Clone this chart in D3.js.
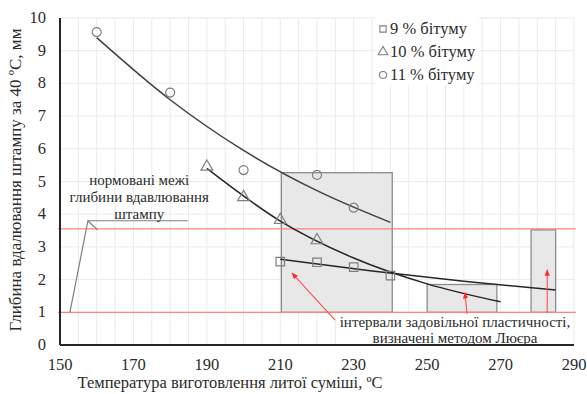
<!DOCTYPE html>
<html lang="uk">
<head>
  <meta charset="utf-8">
  <title>Глибина вдавлювання штампу</title>
  <script src="https://d3js.org/d3.v7.min.js"></script>
</head>
<body style="margin:0; background:#fff">
<script>
// measured points (temperature, depth)
var temp9 = [210, 220, 230, 240];
var depth9 = [2.55, 2.53, 2.38, 2.12];
var temp10 = [190, 200, 210, 220];
var depth10 = [5.45, 4.52, 3.82, 3.2];
var temp11 = [160, 180, 200, 220, 230];
var depth11 = [9.57, 7.72, 5.35, 5.2, 4.2];

// trend lines
var trend9X = [210, 235, 260, 285];
var trend9Y = [2.62, 2.26, 1.95, 1.68];
var trend10X = [190, 210, 230, 250, 270];
var trend10Y = [5.4, 3.79, 2.66, 1.87, 1.32];
var trend11X = [160, 180, 200, 220, 240];
var trend11Y = [9.4, 7.5, 5.95, 4.72, 3.75];

// Lüer intervals
var boxFrom = [210.3, 250, 278.3];
var boxTo = [240.5, 269, 285];
var boxTop = [5.27, 1.85, 3.52];
var limits = [1, 3.55];

var xTicks = [150, 170, 190, 210, 230, 250, 270, 290];
var yTicks = [0, 1, 2, 3, 4, 5, 6, 7, 8, 9, 10];
var legendNames = ["9 % бітуму", "10 % бітуму", "11 % бітуму"];

var w = 587, h = 394;
var m = {left: 60, right: 13, top: 18, bottom: 49};
var serif = "'Liberation Serif', 'Times New Roman', serif";

var x = d3.scaleLinear().domain([150, 290]).range([m.left, w - m.right]);
var y = d3.scaleLinear().domain([0, 10]).range([h - m.bottom, m.top]);

var svg = d3.select("body").append("svg")
  .attr("width", w)
  .attr("height", h);

// every label goes through here so the font is set inline
function label(sel, size) {
  return sel.style("font-family", serif)
    .style("font-size", size + "px")
    .style("fill", "#2b2b2b");
}

// grid
svg.append("g").selectAll("line")
  .data(d3.range(155, 291, 5))
  .enter().append("line")
  .attr("x1", function(d) { return x(d); })
  .attr("x2", function(d) { return x(d); })
  .attr("y1", y(0)).attr("y2", y(10))
  .attr("stroke", "#ebebeb");
svg.append("g").selectAll("line")
  .data(yTicks.slice(1))
  .enter().append("line")
  .attr("x1", x(150)).attr("x2", x(290))
  .attr("y1", function(d) { return y(d); })
  .attr("y2", function(d) { return y(d); })
  .attr("stroke", "#ebebeb");

// interval boxes
svg.append("g").selectAll("rect")
  .data(boxFrom)
  .enter().append("rect")
  .attr("x", function(d) { return x(d); })
  .attr("y", function(d, i) { return y(boxTop[i]); })
  .attr("width", function(d, i) { return x(boxTo[i]) - x(d); })
  .attr("height", function(d, i) { return y(limits[0]) - y(boxTop[i]); })
  .attr("fill", "#e8e8e8")
  .attr("stroke", "#8c8c8c")
  .attr("stroke-width", 1.3);

// limit lines
svg.append("g").selectAll("line")
  .data(limits)
  .enter().append("line")
  .attr("x1", x(149.5)).attr("x2", x(290.5))
  .attr("y1", function(d) { return y(d); })
  .attr("y2", function(d) { return y(d); })
  .attr("stroke", "#ff8080")
  .attr("stroke-width", 1.2);

// trend lines
function trend(xs, ys, col) {
  var line = d3.line()
    .x(function(d) { return x(d); })
    .y(function(d, i) { return y(ys[i]); })
    .curve(d3.curveMonotoneX);
  svg.append("path")
    .attr("d", line(xs))
    .attr("fill", "none")
    .attr("stroke", col)
    .attr("stroke-width", 1.5);
}
trend(trend11X, trend11Y, "#404040");
trend(trend10X, trend10Y, "#262626");
trend(trend9X, trend9Y, "#262626");

// markers
var sq = d3.symbol().type(d3.symbolSquare).size(72);
var tri = d3.symbol().type(d3.symbolTriangle).size(60);
var circ = d3.symbol().type(d3.symbolCircle).size(64);

function markers(xs, ys, sym) {
  svg.append("g").selectAll("path")
    .data(xs)
    .enter().append("path")
    .attr("d", sym)
    .attr("transform", function(d, i) { return "translate(" + x(d) + "," + y(ys[i]) + ")"; })
    .attr("fill", "none")
    .attr("stroke", "#7f7f7f")
    .attr("stroke-width", 1.2);
}
markers(temp9, depth9, sq);
markers(temp10, depth10, tri);
markers(temp11, depth11, circ);

// axes
svg.append("line")
  .attr("x1", x(150)).attr("x2", x(150))
  .attr("y1", y(10)).attr("y2", y(0))
  .attr("stroke", "#262626").attr("stroke-width", 2);
svg.append("line")
  .attr("x1", x(150)).attr("x2", x(290))
  .attr("y1", y(0)).attr("y2", y(0))
  .attr("stroke", "#262626").attr("stroke-width", 2);

label(svg.append("g").selectAll("text")
  .data(yTicks)
  .enter().append("text")
  .attr("x", x(150) - 14)
  .attr("y", function(d) { return y(d) + 5; })
  .attr("text-anchor", "end")
  .text(function(d) { return d; }), 16.5);

label(svg.append("g").selectAll("text")
  .data(xTicks)
  .enter().append("text")
  .attr("x", function(d) { return x(d); })
  .attr("y", y(0) + 25)
  .attr("text-anchor", "middle")
  .text(function(d) { return d; }), 16.5);

label(svg.append("text")
  .attr("x", 230).attr("y", 388)
  .attr("text-anchor", "middle")
  .text("Температура виготовлення литої суміші, ºС"), 16.5);

label(svg.append("text")
  .attr("transform", "translate(21," + 180 + ") rotate(-90)")
  .attr("text-anchor", "middle")
  .text("Глибина вдалювання штампу за 40 ºС, мм"), 17);

// legend
var lg = svg.append("g");
lg.append("rect")
  .attr("x", 375).attr("y", 17)
  .attr("width", 104).attr("height", 68)
  .attr("fill", "#fff");
legendNames.forEach(function(n, i) {
  var ly = 29 + i * 23;
  lg.append("path")
    .attr("d", d3.symbol().type([d3.symbolSquare, d3.symbolTriangle, d3.symbolCircle][i]).size(40))
    .attr("transform", "translate(383," + ly + ")")
    .attr("fill", "none")
    .attr("stroke", "#7f7f7f")
    .attr("stroke-width", 1.1);
  label(lg.append("text")
    .attr("x", 390).attr("y", ly + 5)
    .text(n), 16.5);
});

// callout for normative limits
var callout = d3.line();
svg.append("path")
  .attr("d", callout([[x(152.7), y(1)], [x(157.6), y(3.8)], [x(184.8), y(3.8)]]))
  .attr("fill", "none")
  .attr("stroke", "#7f7f7f")
  .attr("stroke-width", 1.2);
svg.append("path")
  .attr("d", callout([[x(157.6), y(3.8)], [x(160.2), y(3.52)]]))
  .attr("stroke", "#7f7f7f")
  .attr("stroke-width", 1.2);
["нормовані межі", "глибини вдавлювання", "штампу"].forEach(function(t, i) {
  label(svg.append("text")
    .attr("x", x(171.6)).attr("y", 185 + i * 17)
    .attr("text-anchor", "middle")
    .text(t), 15);
});

// red arrows to the intervals
svg.append("defs").append("marker")
  .attr("id", "ah")
  .attr("viewBox", "0 0 10 10")
  .attr("refX", 9).attr("refY", 5)
  .attr("markerWidth", 6).attr("markerHeight", 6)
  .attr("orient", "auto")
  .append("path")
  .attr("d", "M0,1 L10,5 L0,9 Z")
  .attr("fill", "#ff2b2b");

var arrows = [
  [[224.9, 0.76], [213.2, 2.2]],
  [[260.9, 0.92], [260.3, 1.6]],
  [[282.7, 0.98], [282.7, 2.3]]
];
arrows.forEach(function(a) {
  svg.append("line")
    .attr("x1", x(a[0][0])).attr("y1", y(a[0][1]))
    .attr("x2", x(a[1][0])).attr("y2", y(a[1][1]))
    .attr("stroke", "#ff4d4d")
    .attr("stroke-width", 1.1)
    .attr("marker-end", "url(#ah)");
});

svg.append("rect")
  .attr("x", 338).attr("y", 314)
  .attr("width", 234).attr("height", 30)
  .attr("fill", "#fff");
["інтервали задовільної пластичності,", "визначені методом Люєра"].forEach(function(t, i) {
  label(svg.append("text")
    .attr("x", 455).attr("y", 327 + i * 16)
    .attr("text-anchor", "middle")
    .text(t), 15);
});
</script>
</body>
</html>
